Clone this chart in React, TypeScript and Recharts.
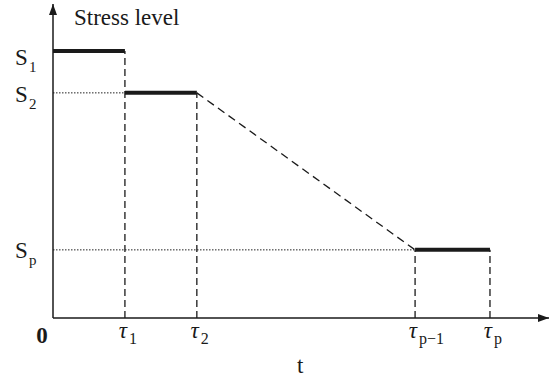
import React from 'react';
import {
  ComposedChart,
  XAxis,
  YAxis,
  ReferenceLine,
  ReferenceDot,
} from 'recharts';

// tempos de mudança de nível (eixo t, escala arbitrária 0–10)
const tauValues = [0, 1.45, 2.9, 7.3, 8.81];
const tauSubs = ['', '1', '2', 'p\u22121', 'p'];

// níveis de tensão (eixo vertical, escala arbitrária 0–10)
const stressValues = [8.5, 7.17, 2.17];
const stressSubs = ['1', '2', 'p'];

const axisMax = 10;
const FONT = 'Liberation Serif, Times New Roman, DejaVu Serif, serif';
const INK = '#1a1a1a';

// degraus: [tInicio, tFim, nível]
const steps = [
  [tauValues[0], tauValues[1], stressValues[0]],
  [tauValues[1], tauValues[2], stressValues[1]],
  [tauValues[3], tauValues[4], stressValues[2]],
];

// linhas tracejadas verticais: [t, nível superior]
const dropLines = [
  [tauValues[1], stressValues[0]],
  [tauValues[2], stressValues[1]],
  [tauValues[3], stressValues[2]],
  [tauValues[4], stressValues[2]],
];

// linhas pontilhadas horizontais: [tFim, nível]
const guideLines = [
  [tauValues[1], stressValues[1]],
  [tauValues[3], stressValues[2]],
];

// deslocamento vertical do rótulo S em relação à linha
const stressLabelDy = [14, 9, 8];

const TauTick = (props: any) => {
  const { x, y, payload } = props;
  if (payload.value === 0) {
    return (
      <text x={x - 11} y={y + 25} textAnchor="middle" fontFamily={FONT} fontWeight="bold" fontSize={23} fill={INK}>
        0
      </text>
    );
  }
  const i = tauValues.indexOf(payload.value);
  return (
    <g>
      <text x={x + 2} y={y + 20} textAnchor="end" fontFamily={FONT} fontStyle="italic" fontSize={23} fill={INK}>
        τ
      </text>
      <text x={x + 4} y={y + 26} textAnchor="start" fontFamily={FONT} fontSize={16} fill={INK}>
        {tauSubs[i]}
      </text>
    </g>
  );
};

const StressTick = (props: any) => {
  const { y, payload } = props;
  const i = stressValues.indexOf(payload.value);
  const dy = stressLabelDy[i] ?? 9;
  return (
    <g>
      <text x={15} y={y + dy} textAnchor="start" fontFamily={FONT} fontSize={23} fill={INK}>
        S
      </text>
      <text x={29} y={y + dy + 7} textAnchor="start" fontFamily={FONT} fontSize={15} fill={INK}>
        {stressSubs[i]}
      </text>
    </g>
  );
};

const ArrowRight = (props: any) => {
  const { cx, cy } = props;
  return <path d={`M${cx},${cy} L${cx - 11},${cy - 4} L${cx - 11},${cy + 4} Z`} fill={INK} />;
};

const ArrowUp = (props: any) => {
  const { cx, cy } = props;
  return <path d={`M${cx},${cy} L${cx - 4},${cy + 11} L${cx + 4},${cy + 11} Z`} fill={INK} />;
};

export default function App() {
  return (
    <div style={{ position: 'absolute', left: 0, top: 0, width: 549, height: 383, background: '#fff' }}>
      <ComposedChart
        width={549}
        height={383}
        data={tauValues.map((t) => ({ t }))}
        margin={{ top: 4, right: 0, left: 0, bottom: 0 }}
      >
        <XAxis
          type="number"
          dataKey="t"
          domain={[0, axisMax]}
          ticks={tauValues}
          interval={0}
          height={65}
          tickSize={0}
          tickMargin={0}
          tickLine={false}
          axisLine={{ stroke: INK, strokeWidth: 1.5 }}
          tick={<TauTick />}
          allowDataOverflow
        />
        <YAxis
          type="number"
          domain={[0, axisMax]}
          ticks={stressValues}
          interval={0}
          width={53}
          tickSize={0}
          tickMargin={0}
          tickLine={false}
          axisLine={{ stroke: INK, strokeWidth: 1.5 }}
          tick={<StressTick />}
          allowDataOverflow
        />

        {/* pontilhadas */}
        {guideLines.map(([t, s], i) => (
          <ReferenceLine
            key={`g-${i}`}
            segment={[{ x: 0, y: s }, { x: t, y: s }]}
            stroke="#222"
            strokeWidth={1}
            strokeDasharray="1.5 1.5"
            ifOverflow="visible"
          />
        ))}

        {/* tracejadas verticais */}
        {dropLines.map(([t, s], i) => (
          <ReferenceLine
            key={`d-${i}`}
            segment={[{ x: t, y: 0 }, { x: t, y: s }]}
            stroke={INK}
            strokeWidth={1.3}
            strokeDasharray="7 4"
            ifOverflow="visible"
          />
        ))}

        {/* transição linear tracejada */}
        <ReferenceLine
          segment={[
            { x: tauValues[2], y: stressValues[1] },
            { x: tauValues[3], y: stressValues[2] },
          ]}
          stroke={INK}
          strokeWidth={1.3}
          strokeDasharray="8 5"
          ifOverflow="visible"
        />

        {/* degraus */}
        {steps.map(([a, b, s], i) => (
          <ReferenceLine
            key={`s-${i}`}
            segment={[{ x: a, y: s }, { x: b, y: s }]}
            stroke={INK}
            strokeWidth={4}
            ifOverflow="visible"
          />
        ))}

        <ReferenceDot x={axisMax} y={0} r={0} shape={<ArrowRight />} ifOverflow="visible" />
        <ReferenceDot x={0} y={axisMax} r={0} shape={<ArrowUp />} ifOverflow="visible" />
      </ComposedChart>

      <div
        style={{
          position: 'absolute',
          left: 74,
          top: 4,
          fontFamily: FONT,
          fontSize: 23,
          color: INK,
          lineHeight: '27px',
        }}
      >
        Stress level
      </div>
      <div
        style={{
          position: 'absolute',
          left: 297,
          top: 352,
          fontFamily: FONT,
          fontSize: 23,
          color: INK,
          lineHeight: '27px',
        }}
      >
        t
      </div>
    </div>
  );
}
